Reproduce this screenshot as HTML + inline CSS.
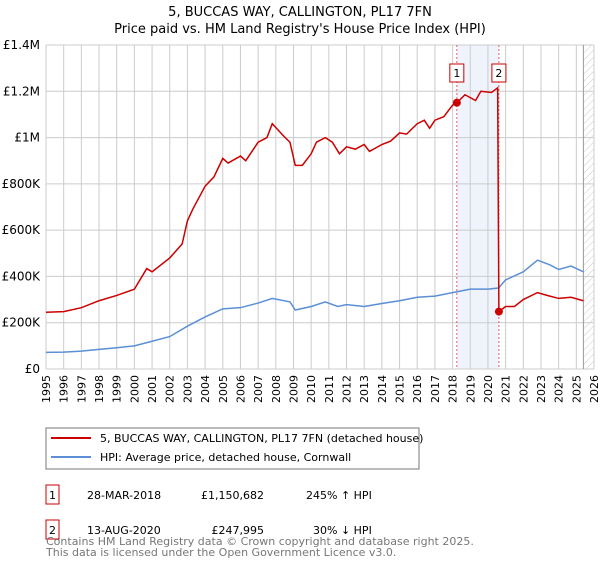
<!DOCTYPE html>
<html><head><meta charset="utf-8"><style>
body{margin:0;background:#fff;font-family:"Liberation Sans","DejaVu Sans",sans-serif;}
svg text{font-family:"DejaVu Sans","Liberation Sans",sans-serif;}
</style></head><body>
<svg width="600" height="560" viewBox="0 0 600 560" xmlns="http://www.w3.org/2000/svg">
<defs><pattern id="hatch" width="5" height="5" patternUnits="userSpaceOnUse" patternTransform="rotate(45)"><line x1="0" y1="0" x2="0" y2="5" stroke="#ccc" stroke-width="1"/></pattern></defs>
<text x="300" y="16" text-anchor="middle" font-size="13">5, BUCCAS WAY, CALLINGTON, PL17 7FN</text>
<text x="300" y="33" text-anchor="middle" font-size="13">Price paid vs. HM Land Registry's House Price Index (HPI)</text>
<g id="plot"></g>
<g>
<rect x="46" y="428" width="373" height="41" fill="#fff" stroke="#777"/>
<line x1="51" y1="438" x2="91" y2="438" stroke="#cc0000" stroke-width="2"/>
<text x="100" y="442" font-size="11">5, BUCCAS WAY, CALLINGTON, PL17 7FN (detached house)</text>
<line x1="51" y1="457" x2="91" y2="457" stroke="#5b8fd6" stroke-width="2"/>
<text x="100" y="461" font-size="11">HPI: Average price, detached house, Cornwall</text>
</g>
<g font-size="11">
<rect x="46" y="485" width="13" height="19" fill="#fff" stroke="#cc0000"/><text x="52.5" y="499" text-anchor="middle">1</text>
<text x="87" y="499">28-MAR-2018</text><text x="264" y="499" text-anchor="end">£1,150,682</text><text x="306" y="499">245% ↑ HPI</text>
<rect x="46" y="520" width="13" height="19" fill="#fff" stroke="#cc0000"/><text x="52.5" y="534" text-anchor="middle">2</text>
<text x="87" y="534">13-AUG-2020</text><text x="264" y="534" text-anchor="end">£247,995</text><text x="313" y="534">30% ↓ HPI</text>
</g>
<text x="46" y="545" font-size="11" fill="#777">Contains HM Land Registry data © Crown copyright and database right 2025.</text>
<text x="46" y="556" font-size="11" fill="#777">This data is licensed under the Open Government Licence v3.0.</text>
</svg>
<script>
const hpiYears=[1995,1996,1997,1998,1999,2000,2001,2002,2003,2004,2005,2006,2007,2007.8,2008.8,2009.1,2010,2010.8,2011.5,2012,2013,2014,2015,2016,2017,2018,2019,2020,2020.6,2021,2022,2022.8,2023.5,2024,2024.7,2025.4];
const hpiValues=[72,73,77,85,92,100,120,140,185,225,260,265,285,305,290,255,270,290,270,278,270,283,295,310,315,330,345,345,350,385,420,470,450,430,445,420];
const redYears=[1995,1996,1997,1998,1999,2000,2000.7,2001,2002,2002.7,2003,2003.3,2004,2004.5,2005,2005.3,2006,2006.3,2007,2007.5,2007.8,2008.4,2008.8,2009.1,2009.5,2010,2010.3,2010.8,2011.2,2011.6,2012,2012.5,2013,2013.3,2014,2014.5,2015,2015.4,2016,2016.4,2016.7,2017,2017.5,2018,2018.24,2018.7,2019.3,2019.6,2020.2,2020.55,2020.62,2021,2021.5,2022,2022.8,2023.5,2024,2024.7,2025.4];
const redValues=[245,248,265,295,318,345,434,420,480,540,640,690,790,830,910,890,920,900,980,1000,1060,1010,980,880,880,930,980,1000,980,930,960,950,970,940,970,985,1020,1015,1060,1075,1040,1075,1090,1140,1150,1185,1160,1200,1195,1215,248,270,270,300,330,315,305,310,295];
const saleYears=[2018.24,2020.62];
const saleValues=[1150.682,247.995];
const saleLabels=["1","2"];
const yTicks=[0,200,400,600,800,1000,1200,1400];
const yTickLabels=["£0","£200K","£400K","£600K","£800K","£1M","£1.2M","£1.4M"];
const xTicks=[1995,1996,1997,1998,1999,2000,2001,2002,2003,2004,2005,2006,2007,2008,2009,2010,2011,2012,2013,2014,2015,2016,2017,2018,2019,2020,2021,2022,2023,2024,2025,2026];

const L=46,R=594,T=45,B=369,x0=1995,x1=2026,ymax=1400;
const X=v=>L+(v-x0)/(x1-x0)*(R-L);
const Y=v=>B-v/ymax*(B-T);
const NS="http://www.w3.org/2000/svg";
const g=document.getElementById('plot');
function mk(t,a,p){const e=document.createElementNS(NS,t);for(const k in a)e.setAttribute(k,a[k]);(p||g).appendChild(e);return e;}
mk('rect',{x:L,y:T,width:R-L,height:B-T,fill:'#fff'});
const sh=mk('rect',{x:X(saleYears[0]),y:T,width:X(saleYears[1])-X(saleYears[0]),height:B-T,fill:'#eef3fc'});


const hx=X(2025.4);
const ht=mk('rect',{x:hx,y:T,width:R-hx,height:B-T,fill:'url(#hatch)'});


xTicks.forEach(v=>{
  const l=mk('line',{x1:X(v),y1:T,x2:X(v),y2:B,stroke:'#ccc','stroke-width':1});
  
  
  const t=mk('text',{x:0,y:0,'font-size':11,'text-anchor':'end',transform:`translate(${X(v)+4},${B+6}) rotate(-90)`});
  t.textContent=v;
  
  
});
yTicks.forEach((v,i)=>{
  const l=mk('line',{x1:L,y1:Y(v),x2:R,y2:Y(v),stroke:'#ccc','stroke-width':1});
  
  
  const t=mk('text',{x:40,y:Y(v)+4,'font-size':12,'text-anchor':'end'});
  t.textContent=yTickLabels[i];
  
  
});
mk('line',{x1:hx,y1:T,x2:hx,y2:B,stroke:'#999','stroke-width':1});
saleYears.forEach(v=>{
  const l=mk('line',{x1:X(v),y1:T,x2:X(v),y2:B,stroke:'#e06060','stroke-width':1,'stroke-dasharray':'2,2'});
  
  
});
const hp=mk('polyline',{points:hpiYears.map((v,i)=>X(v)+','+Y(hpiValues[i])).join(' '),fill:'none',stroke:'#5b8fd6','stroke-width':1.5});


const rp=mk('polyline',{points:redYears.map((v,i)=>X(v)+','+Y(redValues[i])).join(' '),fill:'none',stroke:'#cc0000','stroke-width':1.5});


saleYears.forEach((v,i)=>{
  const c=mk('circle',{cx:X(v),cy:Y(saleValues[i]),r:4,fill:'#cc0000'});
  
  
  const b=mk('rect',{x:X(v)-7,y:T+19,width:14,height:18,fill:'#fff',stroke:'#cc0000'});
  
  
  const t=mk('text',{x:X(v),y:T+32,'font-size':11,'text-anchor':'middle'});
  t.textContent=saleLabels[i];
  
  
});
</script>
</body></html>
